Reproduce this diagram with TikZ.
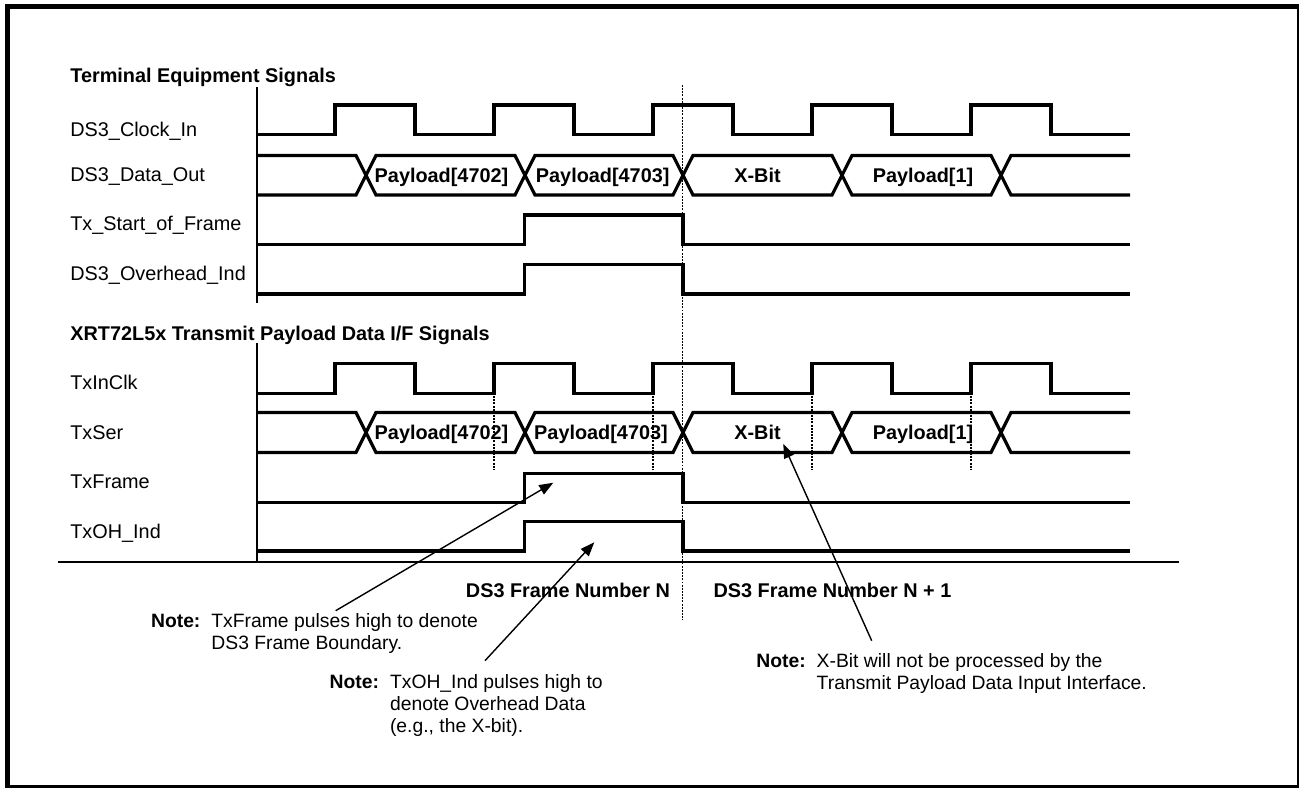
\documentclass[tikz,border=0pt]{standalone}
\usepackage{fontspec}
\setmainfont{Liberation Sans}
\usetikzlibrary{arrows.meta,positioning,calc}

\begin{document}
\begin{tikzpicture}[
  x=0.02cm, y=-0.02cm,
  every node/.style={font=\fontsize{11.3}{12.5}\selectfont, inner sep=0pt},
  sig/.style={line width=1.8pt, line join=miter},
  axis/.style={line width=0.8pt},
  guide/.style={line width=0.7pt, dash pattern=on 1.1pt off 0.7pt},
  signame/.style={anchor=base west},
  head/.style={anchor=base west, font=\fontsize{11.3}{12.5}\selectfont\bfseries},
  word/.style={anchor=base, font=\fontsize{11.3}{12.5}\selectfont\bfseries},
  note/.style={anchor=base west, font=\fontsize{11}{12.5}\selectfont},
  arr/.style={-{Triangle[length=8pt,width=6pt]}, line width=0.8pt}]
\useasboundingbox (0,0) rectangle (1299,788);
\draw[line width=2.9pt] (7.7,6.7) rectangle (1299.5,787.5);

% terminal equipment signals
\node[head] (headA) at (70,82) {Terminal Equipment Signals};
\node[signame] (clkA) at (70,136.3) {DS3\_Clock\_In};
\node[signame] (dataA) at (70,181) {DS3\_Data\_Out};
\node[signame] (sofA) at (70,230.3) {Tx\_Start\_of\_Frame};
\node[signame] (ohA) at (70,280.3) {DS3\_Overhead\_Ind};
\draw[axis] (257,87) -- (257,303);
\draw[sig] (257,134.5) -| (335,105) -| (415,134.5) -| (494,105) -| (574,134.5) -| (653,105) -| (733,134.5) -| (812,105) -| (892,134.5) -| (971,105) -| (1051,134.5) -- (1130,134.5);
\draw[sig] (257,155.5) -- (356,155.5) -- (376,195) -- (515,195) -- (535,155.5) -- (673,155.5) -- (693,195) -- (832,195) -- (852,155.5) -- (991,155.5) -- (1011,195) -- (1130,195);
\draw[sig] (257,195) -- (356,195) -- (376,155.5) -- (515,155.5) -- (535,195) -- (673,195) -- (693,155.5) -- (832,155.5) -- (852,195) -- (991,195) -- (1011,155.5) -- (1130,155.5);
\node[word] (pa4702) at (441.5,182) {Payload[4702]};
\node[word] (pa4703) at (602.7,182) {Payload[4703]};
\node[word] (xbitA) at (757.5,182) {X-Bit};
\node[word] (pa1) at (923,182) {Payload[1]};
\draw[sig] (257,244.5) -| (524.5,215) -| (683,244.5) -- (1130,244.5);
\draw[sig] (257,294) -| (524.5,264.5) -| (683,294) -- (1130,294);

% transmit payload data interface signals
\node[head] (headB) at (70,340.3) {XRT72L5x Transmit Payload Data I/F Signals};
\node[signame] (clkB) at (70,389) {TxInClk};
\node[signame] (serB) at (70,439) {TxSer};
\node[signame] (frmB) at (70,488.7) {TxFrame};
\node[signame] (ohB) at (70,538.7) {TxOH\_Ind};
\draw[axis] (257,343) -- (257,562);
\draw[axis] (58,562) -- (1179,562);
\draw[sig] (257,393.3) -| (335,363.3) -| (415,393.3) -| (494,363.3) -| (574,393.3) -| (653,363.3) -| (733,393.3) -| (812,363.3) -| (892,393.3) -| (971,363.3) -| (1051,393.3) -- (1130,393.3);
\draw[sig] (257,412.5) -- (356,412.5) -- (376,452.5) -- (515,452.5) -- (535,412.5) -- (673,412.5) -- (693,452.5) -- (832,452.5) -- (852,412.5) -- (991,412.5) -- (1011,452.5) -- (1130,452.5);
\draw[sig] (257,452.5) -- (356,452.5) -- (376,412.5) -- (515,412.5) -- (535,452.5) -- (673,452.5) -- (693,412.5) -- (832,412.5) -- (852,452.5) -- (991,452.5) -- (1011,412.5) -- (1130,412.5);
\node[word] (pb4702) at (441.5,439.5) {Payload[4702]};
\node[word] (pb4703) at (601,439.5) {Payload[4703]};
\node[word] (xbitB) at (757.5,439.5) {X-Bit};
\node[word] (pb1) at (923,439.5) {Payload[1]};
\draw[sig] (257,502.7) -| (524.5,473.3) -| (683,502.7) -- (1130,502.7);
\draw[sig] (257,551) -| (524.5,521.7) -| (683,551) -- (1130,551);

% frame boundary and sampling guides
\draw[guide] (682.7,85) -- (682.7,620);
\draw[guide] (494,393) -- (494,470);
\draw[guide] (653,393) -- (653,470);
\draw[guide] (812,393) -- (812,470);
\draw[guide] (971,393) -- (971,470);
\node[word] (frameN) at (568,597.7) {DS3 Frame Number N};
\node[word] (frameN1) at (832.5,597.7) {DS3 Frame Number N + 1};

% notes
\node[note] (noteFrm) at (150.7,627.7) {\begin{tabular}[t]{@{}l@{\hspace{0.22cm}}l@{}}\textbf{Note:} & TxFrame pulses high to denote\\ & DS3 Frame Boundary.\end{tabular}};
\node[note] (noteOH) at (329.3,688.5) {\begin{tabular}[t]{@{}l@{\hspace{0.22cm}}l@{}}\textbf{Note:} & TxOH\_Ind pulses high to\\ & denote Overhead Data\\ & (e.g., the X-bit).\end{tabular}};
\node[note] (noteX) at (756,667.3) {\begin{tabular}[t]{@{}l@{\hspace{0.22cm}}l@{}}\textbf{Note:} & X-Bit will not be processed by the\\ & Transmit Payload Data Input Interface.\end{tabular}};
\coordinate (tipFrm) at (553.3,482.7);
\coordinate (tipOH) at (594.3,542.3);
\coordinate (tipX) at (783.3,444);
\draw[arr] ($(noteFrm.north west)+(185,-1.3)$) -- (tipFrm);
\draw[arr] ($(noteOH.north west)+(155.7,-12.1)$) -- (tipOH);
\draw[arr] ($(noteX.north west)+(115.7,-10.9)$) -- (tipX);
\end{tikzpicture}
\end{document}
